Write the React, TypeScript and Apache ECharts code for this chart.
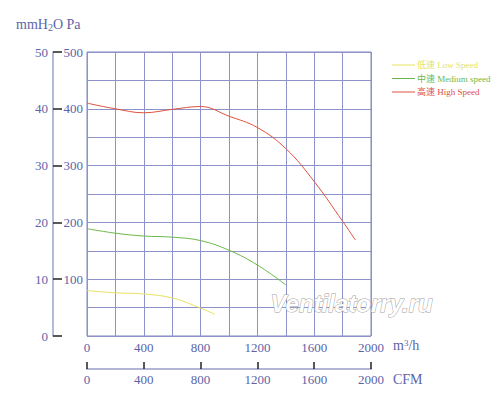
import React, { useEffect, useRef } from "react";
import * as echarts from "echarts";

const flowTicks = [0, 400, 800, 1200, 1600, 2000];
const paTicks = [100, 200, 300, 400, 500];
const mmTicks = [0, 10, 20, 30, 40, 50];

const lowFlow = [0, 200, 400, 600, 800, 900];
const lowPa = [80, 76, 74, 67, 49, 38];
const midFlow = [0, 200, 400, 600, 800, 1000, 1200, 1400];
const midPa = [189, 181, 176, 174, 168, 151, 125, 90];
const highFlow = [0, 200, 400, 600, 800, 1000, 1200, 1400, 1600, 1800, 1890];
const highPa = [410, 400, 393, 399, 404, 387, 367, 330, 272, 202, 169];

const seriesNames = ["低速 Low Speed", "中速 Medium speed", "高速 High Speed"];
const seriesColors = ["#e6e35e", "#6cb84c", "#e0523e"];

const TEXT = "#5c64a6";
const GRIDC = "#8d93c8";
const SERIF = "'Liberation Serif', 'Noto Sans CJK SC', 'DejaVu Serif', serif";

function pairs(xs: number[], ys: number[]) {
  return xs.map((x, i) => [x, ys[i]]);
}

export default function App() {
  const ref = useRef<HTMLDivElement>(null);
  useEffect(() => {
    if (!ref.current) return;
    const chart = echarts.init(ref.current, null, { renderer: "svg" });
    const flowLabel = (v: number) => (flowTicks.includes(v) ? String(v) : "");
    const legendEls: any[] = [];
    seriesNames.forEach((n, i) => {
      const y = 65 + i * 13.5;
      legendEls.push({
        type: "line",
        shape: { x1: 392, y1: y, x2: 415, y2: y },
        style: { stroke: seriesColors[i], lineWidth: 1 },
      });
      legendEls.push({
        type: "text",
        x: 417,
        y: y,
        style: {
          text: n,
          fill: seriesColors[i],
          fontSize: 9,
          fontFamily: SERIF,
          verticalAlign: "middle",
          align: "left",
        },
      });
    });
    chart.setOption({
      animation: false,
      backgroundColor: "#ffffff",
      grid: {
        left: 87,
        top: 52,
        width: 284,
        height: 284,
        show: true,
        borderColor: "#7f86bf",
        borderWidth: 1,
        backgroundColor: "transparent",
      },
      xAxis: [
        {
          type: "value",
          min: 0,
          max: 2000,
          interval: 200,
          position: "bottom",
          axisLine: { show: false, onZero: false },
          axisTick: { show: false },
          splitLine: { show: true, lineStyle: { color: GRIDC, width: 1 } },
          axisLabel: {
            formatter: flowLabel,
            color: TEXT,
            fontSize: 13,
            fontFamily: SERIF,
            margin: 5,
          },
        },
        {
          type: "value",
          min: 0,
          max: 2000,
          interval: 400,
          position: "bottom",
          offset: 33,
          axisLine: { show: true, onZero: false, lineStyle: { color: "#b3b6d6", width: 2 } },
          axisTick: { show: true, inside: true, length: 7, lineStyle: { color: "#222", width: 1.5 } },
          splitLine: { show: false },
          axisLabel: {
            formatter: (v: number) => String(v),
            color: TEXT,
            fontSize: 13,
            fontFamily: SERIF,
            margin: 4,
          },
        },
      ],
      yAxis: [
        {
          type: "value",
          min: 0,
          max: 500,
          interval: 50,
          position: "left",
          axisLine: { show: false, onZero: false },
          axisTick: { show: false },
          splitLine: { show: true, lineStyle: { color: GRIDC, width: 1 } },
          axisLabel: {
            formatter: (v: number) => (paTicks.includes(v) ? String(v) : ""),
            color: TEXT,
            fontSize: 13,
            fontFamily: SERIF,
            margin: 4,
          },
        },
        {
          type: "value",
          min: 0,
          max: 50,
          interval: 10,
          position: "left",
          offset: 34,
          axisLine: { show: true, onZero: false, lineStyle: { color: "#9ea3cf", width: 1.5 } },
          axisTick: { show: true, inside: true, length: 9, lineStyle: { color: "#222", width: 1.5 } },
          splitLine: { show: false },
          axisLabel: {
            formatter: (v: number) => (mmTicks.includes(v) ? String(v) : ""),
            color: TEXT,
            fontSize: 13,
            fontFamily: SERIF,
            margin: 5,
          },
        },
      ],
      graphic: [
        ...legendEls,
        {
          type: "text",
          left: 16,
          top: 18,
          style: {
            text: "mmH{sub|2}O Pa",
            fill: TEXT,
            fontSize: 14,
            fontFamily: SERIF,
            rich: {
              sub: { fontSize: 10, fontFamily: SERIF, fill: TEXT, verticalAlign: "bottom", padding: [6, 0, 0, 0] },
            },
          },
        },
        {
          type: "text",
          left: 393,
          top: 338,
          style: {
            text: "m{sup|3}/h",
            fill: TEXT,
            fontSize: 14,
            fontFamily: SERIF,
            rich: {
              sup: { fontSize: 9, fontFamily: SERIF, fill: TEXT, verticalAlign: "top", padding: [0, 0, 6, 0] },
            },
          },
        },
        {
          type: "text",
          left: 393,
          top: 372,
          style: { text: "CFM", fill: TEXT, fontSize: 14, fontFamily: SERIF },
        },
        {
          type: "text",
          left: 270,
          top: 291,
          z: 100,
          style: {
            text: "Ventilatorry.ru",
            fill: "#ffffff",
            stroke: "#a0a0a0",
            lineWidth: 1,
            fontSize: 24,
            fontStyle: "italic",
            fontWeight: "bold",
            fontFamily: "'Liberation Sans', Arial, sans-serif",
          },
        },
      ],
      series: [
        { data: pairs(lowFlow, lowPa) },
        { data: pairs(midFlow, midPa) },
        { data: pairs(highFlow, highPa) },
      ].map((s, i) => ({
        name: seriesNames[i],
        type: "line",
        xAxisIndex: 0,
        yAxisIndex: 0,
        data: s.data,
        smooth: 0.4,
        symbol: "none",
        z: 5,
        lineStyle: { color: seriesColors[i], width: 1 },
        itemStyle: { color: seriesColors[i] },
      })),
    });
    return () => chart.dispose();
  }, []);
  return (
    <div
      ref={ref}
      style={{ position: "fixed", left: 0, top: 0, width: 500, height: 409, background: "#fff" }}
    />
  );
}
